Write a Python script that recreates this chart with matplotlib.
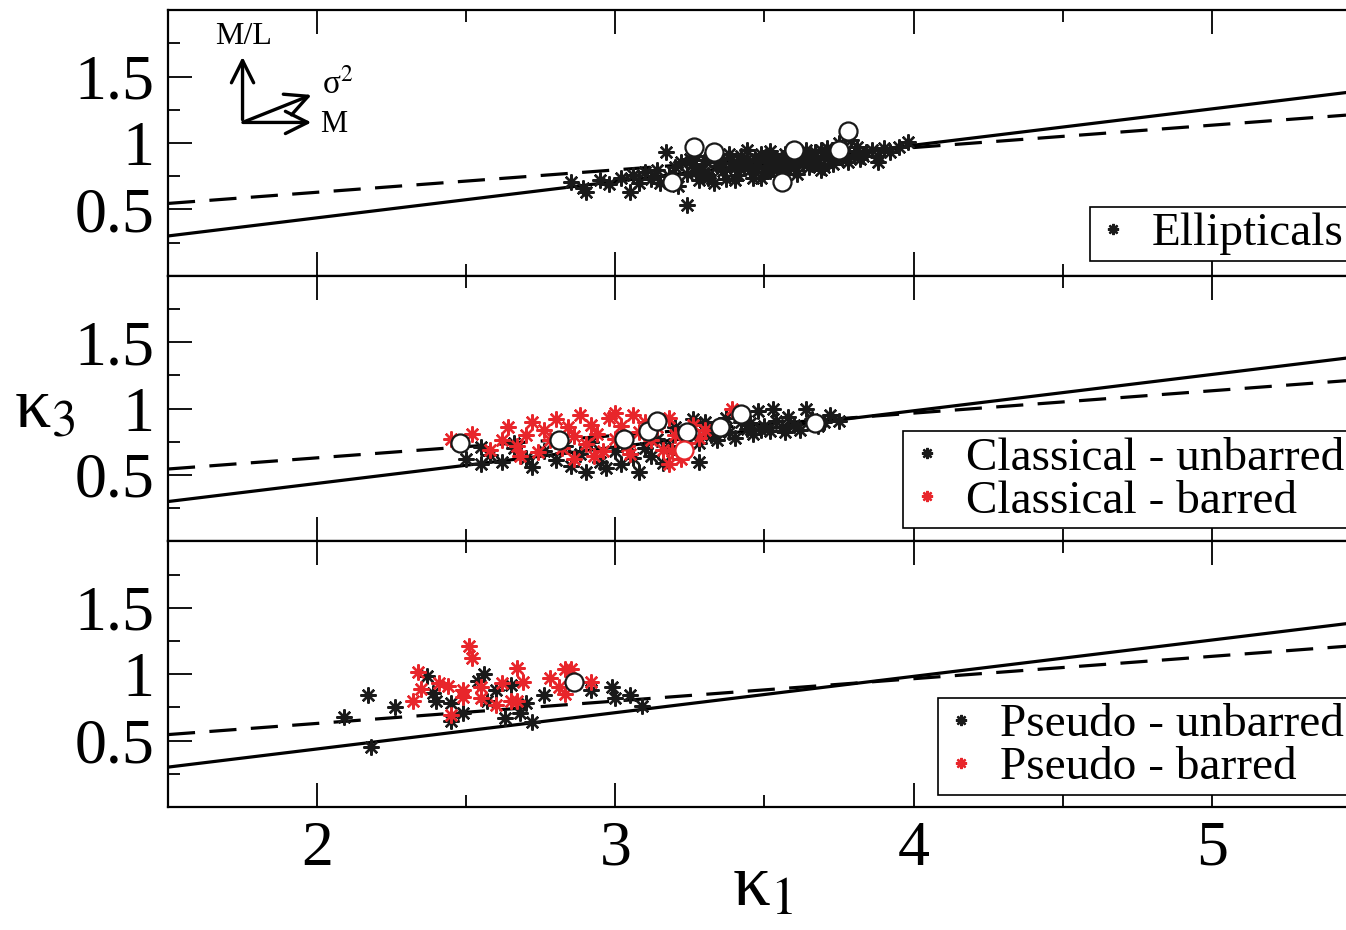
import numpy as np
import matplotlib.pyplot as plt

plt.rcParams['font.family'] = ['Liberation Serif', 'DejaVu Serif']
plt.rcParams['mathtext.fontset'] = 'stix'

# fitted relations (solid / dashed), endpoints at the x limits
fit_x = [1.5, 5.45]
fit_solid = [0.30, 1.38]
fit_dash = [0.545, 1.21]

# --- ellipticals ---
ell_x = [2.85, 2.89, 2.90, 2.95, 2.98, 3.02, 3.05, 3.06, 3.08, 3.10, 3.12, 3.14, 3.17, 3.18,
         3.20, 3.21, 3.22, 3.24, 3.24, 3.26, 3.27, 3.28, 3.29, 3.30, 3.31, 3.32, 3.33, 3.34,
         3.35, 3.36, 3.37, 3.38, 3.39, 3.40, 3.41, 3.42, 3.43, 3.44, 3.45, 3.46, 3.47, 3.48,
         3.49, 3.50, 3.51, 3.52, 3.53, 3.54, 3.55, 3.56, 3.57, 3.58, 3.59, 3.60, 3.61, 3.62,
         3.63, 3.64, 3.65, 3.66, 3.67, 3.68, 3.69, 3.70, 3.71, 3.72, 3.73, 3.74, 3.75, 3.76,
         3.77, 3.78, 3.79, 3.80, 3.81, 3.82, 3.84, 3.86, 3.88, 3.90, 3.92, 3.95, 3.98, 3.88,
         3.49, 3.15, 3.27, 3.36, 3.44, 3.52, 3.58, 3.66, 3.70, 3.31, 3.40, 3.47, 3.56, 3.63,
         3.25, 3.34, 3.43, 3.53, 3.61, 3.69, 3.77, 3.83]
ell_y = [0.71, 0.66, 0.63, 0.72, 0.69, 0.74, 0.63, 0.76, 0.70, 0.78, 0.73, 0.80, 0.93, 0.75,
         0.82, 0.68, 0.86, 0.53, 0.77, 0.84, 0.90, 0.72, 0.80, 0.87, 0.76, 0.91, 0.70, 0.83,
         0.88, 0.79, 0.73, 0.92, 0.85, 0.81, 0.76, 0.90, 0.86, 0.95, 0.80, 0.74, 0.88, 0.83,
         0.92, 0.78, 0.86, 0.94, 0.81, 0.89, 0.75, 0.85, 0.92, 0.80, 0.88, 0.83, 0.77, 0.91,
         0.86, 0.95, 0.82, 0.89, 0.93, 0.85, 0.80, 0.90, 0.96, 0.87, 0.84, 0.92, 1.00, 0.89,
         0.94, 0.86, 1.02, 0.91, 0.97, 0.88, 0.93, 0.95, 0.90, 0.96, 0.93, 0.97, 1.01, 0.86,
         0.74, 0.70, 0.78, 0.85, 0.88, 0.79, 0.90, 0.84, 0.82, 0.74, 0.72, 0.78, 0.79, 0.84,
         0.88, 0.86, 0.83, 0.87, 0.93, 0.95, 0.91, 0.90]
ell_cx = [3.19, 3.265, 3.33, 3.56, 3.60, 3.75, 3.78]
ell_cy = [0.71, 0.97, 0.93, 0.71, 0.95, 0.95, 1.09]

# --- classical bulges ---
cu_x = [2.50, 2.55, 2.58, 2.62, 2.66, 2.70, 2.72, 2.76, 2.80, 2.83, 2.85, 2.88, 2.90, 2.92,
        2.95, 2.97, 3.00, 3.02, 3.04, 3.06, 3.08, 3.10, 3.12, 3.14, 3.16, 3.18, 3.20, 3.22,
        3.24, 3.26, 3.28, 3.30, 3.32, 3.34, 3.36, 3.38, 3.40, 3.42, 3.44, 3.46, 3.48, 3.50,
        3.52, 3.54, 3.56, 3.58, 3.60, 3.62, 3.64, 3.66, 3.68, 3.70, 3.72, 3.75, 3.53, 3.28,
        2.66, 2.55, 3.30, 3.37, 3.45, 3.49, 3.57]
cu_y = [0.62, 0.58, 0.65, 0.60, 0.70, 0.63, 0.56, 0.68, 0.61, 0.72, 0.57, 0.66, 0.52, 0.75,
        0.60, 0.55, 0.68, 0.58, 0.73, 0.63, 0.52, 0.70, 0.64, 0.77, 0.59, 0.72, 0.86, 0.66,
        0.78, 0.92, 0.74, 0.84, 0.80, 0.76, 0.88, 0.82, 0.78, 0.90, 0.85, 0.81, 0.98, 0.87,
        0.83, 0.91, 0.86, 0.94, 0.88, 0.84, 1.00, 0.92, 0.87, 0.90, 0.95, 0.91, 1.00, 0.60,
        0.74, 0.71, 0.90, 0.93, 0.89, 0.84, 0.82]
cb_x = [2.45, 2.52, 2.58, 2.62, 2.64, 2.67, 2.70, 2.72, 2.74, 2.76, 2.78, 2.80, 2.82, 2.84,
        2.86, 2.88, 2.90, 2.92, 2.94, 2.96, 2.98, 3.00, 3.02, 3.04, 3.06, 3.08, 3.10, 3.12,
        3.14, 3.16, 3.18, 3.20, 3.22, 3.24, 3.26, 3.28, 3.30, 3.39, 2.68, 2.86, 3.00, 2.93,
        3.05, 3.18, 3.19]
cb_y = [0.77, 0.81, 0.69, 0.76, 0.86, 0.72, 0.80, 0.90, 0.67, 0.84, 0.76, 0.92, 0.70, 0.86,
        0.79, 0.95, 0.73, 0.88, 0.81, 0.68, 0.93, 0.77, 0.87, 0.72, 0.95, 0.82, 0.90, 0.76,
        0.86, 0.69, 0.93, 0.80, 0.62, 0.74, 0.88, 0.78, 0.84, 1.00, 0.64, 0.62, 0.97, 0.64,
        0.66, 0.58, 0.68]
cl_cx = [2.48, 2.81, 3.03, 3.11, 3.14, 3.24, 3.35, 3.42, 3.67]
cl_cy = [0.74, 0.76, 0.77, 0.83, 0.91, 0.82, 0.86, 0.96, 0.89]
cl_rx = [3.23]
cl_ry = [0.69]

# --- pseudo bulges ---
pu_x = [2.09, 2.17, 2.18, 2.26, 2.37, 2.40, 2.45, 2.45, 2.49, 2.54, 2.56, 2.60, 2.57, 2.65,
        2.63, 2.70, 2.68, 2.72, 2.76, 2.92, 2.99, 3.00, 3.05, 3.09, 2.39]
pu_y = [0.68, 0.84, 0.45, 0.75, 0.99, 0.80, 0.78, 0.65, 0.71, 0.95, 1.00, 0.88, 0.80, 0.92,
        0.67, 0.78, 0.71, 0.64, 0.84, 0.88, 0.90, 0.82, 0.84, 0.76, 0.86]
pb_x = [2.51, 2.52, 2.34, 2.35, 2.32, 2.41, 2.44, 2.49, 2.49, 2.55, 2.55, 2.62, 2.67, 2.69,
        2.65, 2.67, 2.60, 2.45, 2.78, 2.81, 2.83, 2.83, 2.85, 2.92]
pb_y = [1.21, 1.12, 1.02, 0.89, 0.80, 0.93, 0.91, 0.88, 0.83, 0.82, 0.90, 0.93, 1.05, 0.94,
        0.80, 0.80, 0.77, 0.69, 0.97, 0.90, 0.85, 1.04, 1.04, 0.94]
ps_cx = [2.86]
ps_cy = [0.94]

BLACK = '#1a1a1a'
RED = '#e8262b'
ast = (8, 2, 0)

fig, axs = plt.subplots(3, 1, sharex=True, figsize=(13.46, 9.30), dpi=100)
fig.subplots_adjust(left=0.1248, right=1.0, top=0.989, bottom=0.1323, hspace=0)

def stars(ax, x, y, c, label=None):
    ax.plot(x, y, ls='none', marker=ast, ms=11.5, mec=c, mfc=c, mew=1.7, label=label, zorder=3)

def circles(ax, x, y, ec=BLACK):
    ax.plot(x, y, ls='none', marker='o', ms=13, mfc='white', mec=ec, mew=1.6, zorder=4)

for ax in axs:
    ax.plot(fit_x, fit_solid, color='black', lw=2.3, zorder=2)
    ax.plot(fit_x, fit_dash, color='black', lw=2.3, ls=(0, (8.5, 4.5)), zorder=2)
    ax.set_xlim(1.5, 5.45)
    ax.set_ylim(0, 2)
    ax.set_yticks([0.5, 1, 1.5])
    ax.set_yticklabels(['0.5', '1', '1.5'])
    ax.set_yticks([0.25, 0.75, 1.25, 1.75], minor=True)
    ax.set_xticks([2, 3, 4, 5])
    ax.set_xticks([2.5, 3.5, 4.5], minor=True)
    ax.tick_params(which='both', direction='in', top=True, bottom=True, left=True, right=False,
                   width=1.3, labelsize=46, pad=10)
    ax.tick_params(which='major', length=17)
    ax.tick_params(which='minor', length=8.5)
    ax.spines['right'].set_visible(False)
    for s in ['left', 'top', 'bottom']:
        ax.spines[s].set_linewidth(1.6)

stars(axs[0], ell_x, ell_y, BLACK, 'Ellipticals')
circles(axs[0], ell_cx, ell_cy)

stars(axs[1], cu_x, cu_y, BLACK, 'Classical - unbarred')
stars(axs[1], cb_x, cb_y, RED, 'Classical - barred')
circles(axs[1], cl_cx, cl_cy)
circles(axs[1], cl_rx, cl_ry, RED)

stars(axs[2], pu_x, pu_y, BLACK, 'Pseudo - unbarred')
stars(axs[2], pb_x, pb_y, RED, 'Pseudo - barred')
circles(axs[2], ps_cx, ps_cy)

leg_pos = [(1.003, 0.056), (1.003, 0.049), (1.003, 0.045)]
for ax, pos in zip(axs, leg_pos):
    leg = ax.legend(loc='lower right', bbox_to_anchor=pos, fontsize=34, frameon=True,
                    fancybox=False, edgecolor='black', framealpha=1, markerscale=0.7,
                    handlelength=0.75, handletextpad=0.45, borderpad=0.12, labelspacing=0.0,
                    borderaxespad=0)
    leg.get_frame().set_linewidth(1.2)

# arrows showing directions of M/L, sigma^2 and M
a0 = axs[0]
arr = dict(arrowstyle='->', lw=2.4, color='black', mutation_scale=40)
a0.annotate('', xy=(1.75, 1.67), xytext=(1.75, 1.155), arrowprops=arr)
a0.annotate('', xy=(1.99, 1.155), xytext=(1.742, 1.155), arrowprops=arr)
a0.annotate('', xy=(1.99, 1.37), xytext=(1.75, 1.155), arrowprops=arr)
a0.text(1.755, 1.69, 'M/L', fontsize=23, ha='center', va='bottom')
a0.text(2.015, 1.44, 'σ$^2$', fontsize=24, ha='left', va='center')
a0.text(2.01, 1.14, 'M', fontsize=22, ha='left', va='center')

fig.text(0.567, 0.027, 'κ$_1$', fontsize=54, ha='center', va='baseline')
fig.text(0.033, 0.56, 'κ$_3$', fontsize=52, ha='center', va='center')

plt.savefig('out.png', dpi=100)
